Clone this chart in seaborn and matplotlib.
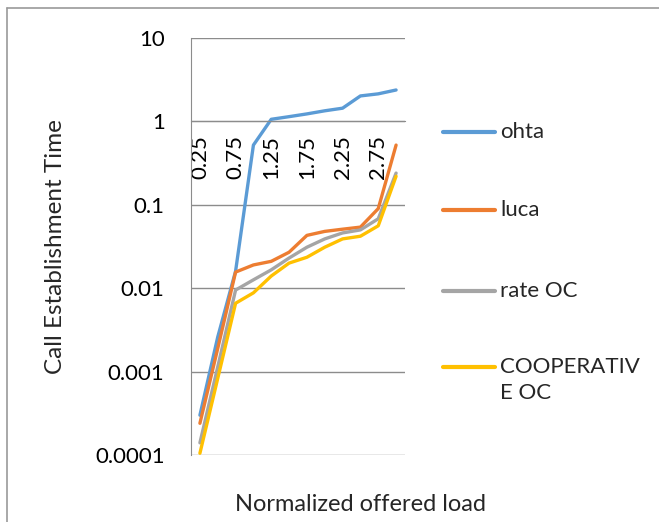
import numpy as np
import pandas as pd
import matplotlib
matplotlib.use("Agg")
import matplotlib.pyplot as plt
import seaborn as sns
from matplotlib.lines import Line2D

# data
load = [0.25, 0.5, 0.75, 1.0, 1.25, 1.5, 1.75, 2.0, 2.25, 2.5, 2.75, 3.0]
ohta = [0.0003, 0.0026, 0.016, 0.52, 1.06, 1.14, 1.23, 1.34, 1.44, 2.02, 2.14, 2.38]
luca = [0.00024, 0.0019, 0.0156, 0.019, 0.021, 0.027, 0.043, 0.048, 0.051, 0.054, 0.09, 0.52]
rate_oc = [0.00014, 0.00114, 0.0095, 0.0126, 0.0166, 0.023, 0.031, 0.039, 0.046, 0.05, 0.068, 0.24]
coop_oc = [0.000105, 0.00083, 0.0066, 0.0088, 0.014, 0.02, 0.0235, 0.031, 0.039, 0.042, 0.056, 0.22]
series_names = ["ohta", "luca", "rate OC", "COOPERATIV\nE OC"]
colors = ["#5B9BD5", "#ED7D31", "#A5A5A5", "#FFC000"]
xtick_vals = [0.25, 0.75, 1.25, 1.75, 2.25, 2.75]
ytick_vals = [0.0001, 0.001, 0.01, 0.1, 1, 10]
ytick_labels = ["0.0001", "0.001", "0.01", "0.1", "1", "10"]

df = pd.DataFrame({
    "load": load * 4,
    "time": ohta + luca + rate_oc + coop_oc,
    "method": sum([[n] * len(load) for n in series_names], []),
})

sns.set_style("white")
plt.rcParams["font.family"] = ["Lato", "DejaVu Sans"]
plt.rcParams["font.size"] = 16

fig = plt.figure(figsize=(6.59, 5.22), dpi=100)
ax = fig.add_axes([191 / 659, 1 - 455 / 522, 214 / 659, 417 / 522])

sns.lineplot(data=df, x="load", y="time", hue="method", hue_order=series_names,
             palette=colors, linewidth=2.4, ax=ax, legend=False)

ax.set_yscale("log")
ax.set_ylim(0.0001, 10)
ax.set_xlim(0.125, 3.125)
ax.set_yticks(ytick_vals)
ax.set_yticklabels(ytick_labels)
ax.yaxis.set_minor_locator(matplotlib.ticker.NullLocator())
ax.set_xticks(xtick_vals)
ax.set_xticklabels([str(v) for v in xtick_vals])
ax.tick_params(axis="both", length=0, labelsize=16, colors="#000000")
ax.tick_params(axis="y", pad=19)
ax.tick_params(axis="x", pad=10, labelrotation=90)

ax.grid(axis="y", color="#8c8c8c", linewidth=1.0)
ax.grid(axis="x", visible=False)
ax.set_axisbelow(True)
for s in ["top", "right"]:
    ax.spines[s].set_visible(False)
ax.spines["left"].set_color("#8c8c8c")
ax.spines["bottom"].set_color("#8c8c8c")
ax.spines["bottom"].set_position(("data", 1))

ax.set_ylabel("Call Establishment Time", fontsize=17.5)
ax.yaxis.set_label_coords(-0.585, 0.5)
ax.set_xlabel("Normalized offered load", fontsize=17)
ax.xaxis.set_label_coords(0.79, -0.093)

# legend entries (Excel style, one per row, right of plot)
legend_rows = [132, 210, 291, 367]
for name, c, yp in zip(series_names, colors, legend_rows):
    yf = 1 - yp / 522
    fig.add_artist(Line2D([443 / 659, 495 / 659], [yf, yf], color=c, linewidth=3))
    first, *rest = name.split("\n")
    fig.text(500 / 659, yf, first, fontsize=16, va="center", ha="left")
    for k, line in enumerate(rest, 1):
        fig.text(500 / 659, 1 - (yp + 26 * k) / 522, line, fontsize=16, va="center", ha="left")

# chart area border (top and left only visible)
fig.add_artist(Line2D([7 / 659, 7 / 659], [0, 1 - 8 / 522], color="#9a9a9a", linewidth=1.2))
fig.add_artist(Line2D([7 / 659, 1], [1 - 8 / 522, 1 - 8 / 522], color="#9a9a9a", linewidth=1.2))

fig.savefig("out.png", dpi=100)
